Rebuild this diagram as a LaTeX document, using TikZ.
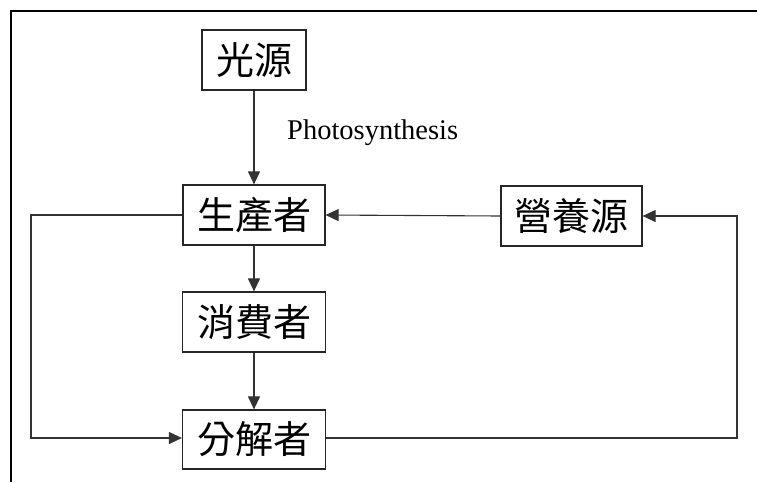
\documentclass[tikz,border=0pt]{standalone}
\usepackage{fontspec}
\setmainfont{Liberation Serif}
\newfontfamily\cjk{Noto Sans CJK TC}
\usetikzlibrary{arrows.meta}
\begin{document}
\begin{tikzpicture}[x=1pt,y=-1pt,
  box/.style={draw=black!85,line width=1.2pt,inner sep=0pt,font=\cjk\fontsize{38}{38}\selectfont},
  conn/.style={draw=black!80,line width=1.1pt},
  tip/.style={-{Triangle[length=13pt,width=12pt]}}]
\useasboundingbox (0,0) rectangle (757,482);
\fill[white] (0,0) rectangle (757,482);
\draw[line width=2.2pt] (11,482) -- (11,11) -- (757,11);
\node[box,minimum width=104pt,minimum height=60pt] (light) at (254,60) {光源};
\node[box,minimum width=142pt,minimum height=60pt] (prod) at (254,215) {生產者};
\node[box,minimum width=143pt,minimum height=60pt] (cons) at (254,322) {消費者};
\node[box,minimum width=143pt,minimum height=59pt] (dec) at (254,439.5) {分解者};
\node[box,minimum width=141pt,minimum height=60pt] (nut) at (571.5,216) {營養源};
\node[font=\fontsize{28.5}{28.5}\selectfont,anchor=west,inner sep=0pt] (ps) at (287,133) {Photosynthesis};
\coordinate (lt) at (31,215);
\coordinate (lb) at (31,438);
\coordinate (rt) at (737,216);
\coordinate (rb) at (737,438);
\draw[conn,tip] (light) -- (prod);
\draw[conn,tip] (prod) -- (cons);
\draw[conn,tip] (cons) -- (dec);
\draw[conn,tip] (nut.west) -- (prod.east);
\draw[conn,tip] (prod.west |- lt) -- (lt) -- (lb) -- (dec.west |- lb);
\draw[conn,tip] (dec.east |- rb) -- (rb) -- (rt) -- (nut.east |- rt);
\end{tikzpicture}
\end{document}
